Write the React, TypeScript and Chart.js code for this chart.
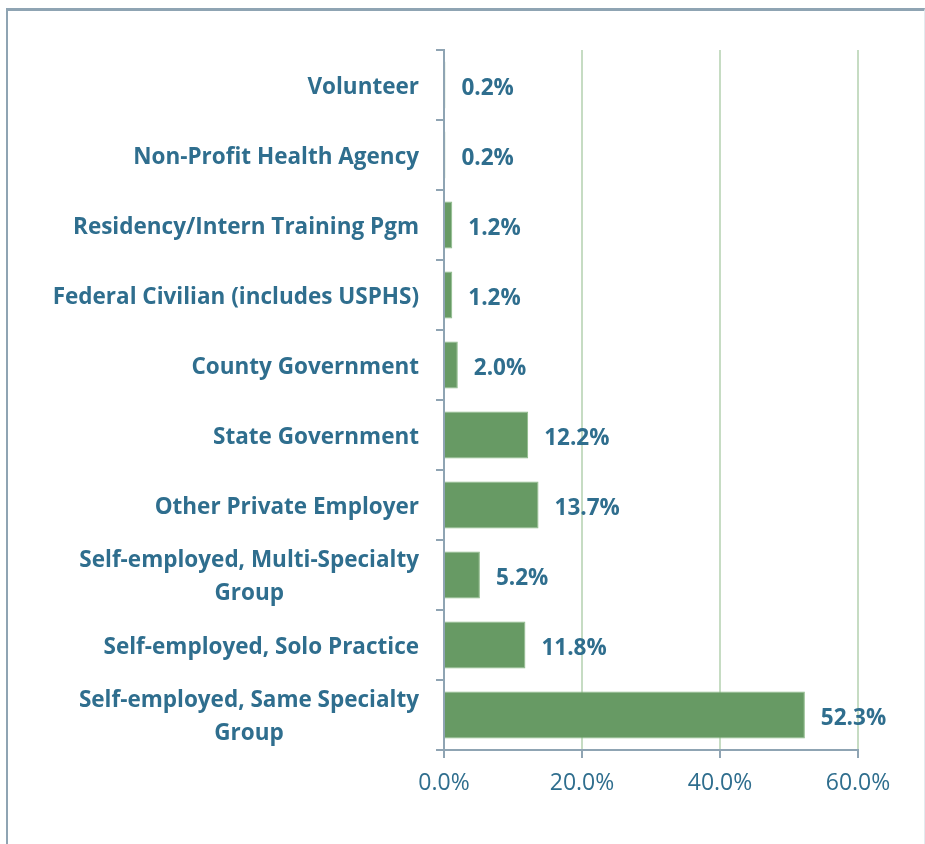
import React, { useEffect, useRef } from "react";
import { Chart, registerables } from "chart.js";

Chart.register(...registerables);

const categories: string[][] = [
  ["Volunteer"],
  ["Non-Profit Health Agency"],
  ["Residency/Intern Training Pgm"],
  ["Federal Civilian (includes USPHS)"],
  ["County Government"],
  ["State Government"],
  ["Other Private Employer"],
  ["Self-employed, Multi-Specialty", "Group"],
  ["Self-employed, Solo Practice"],
  ["Self-employed, Same Specialty", "Group"],
];
const values: number[] = [0.2, 0.2, 1.2, 1.2, 2.0, 12.2, 13.7, 5.2, 11.8, 52.3];
const xMin = 0;
const xMax = 60;
const xStep = 20;

const TEXT = "#2f6e8e";
const FONT = "'Open Sans'";
const LABEL_SIZE = 22.5;
const VALUE_SIZE = 22.5;
const TICK_SIZE = 23;

const labelPlugin = {
  id: "customLabels",
  afterDraw(chart: any) {
    const ctx = chart.ctx;
    const y = chart.scales.y;
    const x = chart.scales.x;
    ctx.save();
    ctx.fillStyle = TEXT;
    ctx.textBaseline = "middle";
    ctx.font = `bold ${LABEL_SIZE}px ${FONT}`;
    const rightEdge = chart.chartArea.left - 25;
    const lineH = 33;
    categories.forEach((lines, i) => {
      const cy = y.getPixelForValue(i);
      const widths = lines.map((l) => ctx.measureText(l).width);
      const maxW = Math.max(...widths);
      const centerX = rightEdge - maxW / 2;
      lines.forEach((l, j) => {
        const ly = cy + (j - (lines.length - 1) / 2) * lineH;
        ctx.textAlign = "center";
        ctx.fillText(l, centerX, ly + 2.5);
      });
    });
    ctx.font = `bold ${VALUE_SIZE}px ${FONT}`;
    ctx.textAlign = "left";
    values.forEach((v, i) => {
      const px = x.getPixelForValue(v);
      const cy = y.getPixelForValue(i);
      ctx.fillText(v.toFixed(1) + "%", px + 16, cy + 3.5);
    });
    ctx.restore();
  },
};

export default function App() {
  const ref = useRef<HTMLCanvasElement | null>(null);
  useEffect(() => {
    if (!ref.current) return;
    const chart = new Chart(ref.current, {
      type: "bar",
      data: {
        labels: categories.map((c) => c.join(" ")),
        datasets: [
          {
            data: values,
            backgroundColor: "#679a64",
            borderColor: "#8dbb89",
            borderWidth: 1,
            categoryPercentage: 0.8,
            barPercentage: 0.84,
          },
        ],
      },
      options: {
        indexAxis: "y",
        animation: false,
        responsive: false,
        layout: { padding: { top: 50, right: 67, left: 0, bottom: 0 } },
        plugins: { legend: { display: false }, tooltip: { enabled: false } },
        scales: {
          x: {
            min: xMin,
            max: xMax,
            ticks: {
              stepSize: xStep,
              color: TEXT,
              padding: 12,
              font: { family: FONT, size: TICK_SIZE },
              callback: (v: any) => Number(v).toFixed(1) + "%",
            },
            grid: {
              color: "#c6dcc3",
              lineWidth: 2,
              tickColor: "#8fa4b3",
              tickLength: 8,
              drawTicks: true,
            },
            border: { color: "#8fa4b3", width: 2 },
            afterFit: (s: any) => {
              s.height = 94;
            },
          },
          y: {
            type: "category",
            ticks: { display: false },
            grid: {
              offset: true,
              drawOnChartArea: false,
              drawTicks: true,
              tickLength: 8,
              color: "#8fa4b3",
              lineWidth: 2,
            },
            border: { color: "#8fa4b3", width: 2 },
            afterFit: (s: any) => {
              s.width = 444;
            },
          },
        },
      },
      plugins: [labelPlugin],
    });
    return () => chart.destroy();
  }, []);

  return (
    <div
      style={{
        position: "absolute",
        left: 0,
        top: 0,
        width: 925,
        height: 844,
        overflow: "hidden",
        background: "#ffffff",
      }}
    >
      <div
        style={{
          position: "absolute",
          left: 6,
          top: 8,
          width: 916,
          height: 900,
          borderLeft: "2px solid #8fa4b3",
          borderTop: "3px solid #8fa4b3",
          borderRight: "1px solid #e3eaef",
        }}
      />
      <canvas
        ref={ref}
        width={925}
        height={844}
        style={{ position: "absolute", left: 0, top: 0 }}
      />
    </div>
  );
}
